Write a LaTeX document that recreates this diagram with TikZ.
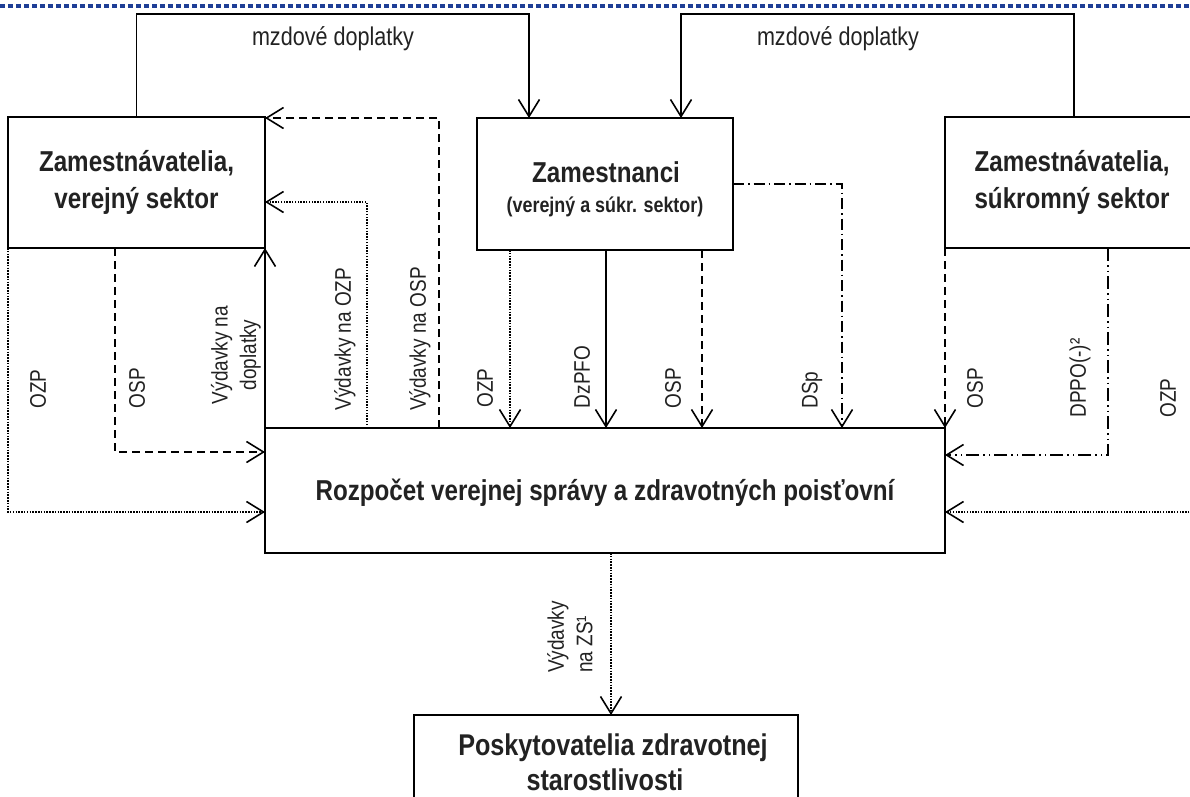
\documentclass[tikz,border=0pt]{standalone}
\usepackage{fontspec}
\setmainfont{Liberation Sans}[FakeStretch=0.84]
\usetikzlibrary{arrows.meta,calc}
\definecolor{txt}{RGB}{34,34,34}
\definecolor{topblue}{RGB}{30,62,150}
\tikzset{
 x=1pt, y=-1pt,
 box/.style={draw=black, line width=1.3pt, outer sep=0pt, inner sep=0pt},
 conn/.style={line width=1.8pt, draw=black},
 arr/.style={-{Straight Barb[length=17pt,width=21pt,line width=1.6pt]}},
 dsh/.style={dash pattern=on 8pt off 5pt},
 dtt/.style={dash pattern=on 1.5pt off 1.3pt},
 ddot/.style={dash pattern=on 11pt off 4pt on 1.5pt off 4pt},
 dddot/.style={dash pattern=on 13pt off 4pt on 1.5pt off 4pt on 1.5pt off 4pt},
 title/.style={text=txt, font=\bfseries\fontsize{28.8}{37}\selectfont, align=center, inner sep=0pt},
 btitle/.style={text=txt, font=\bfseries\fontsize{30}{35}\selectfont, inner sep=0pt},
 subt/.style={text=txt, font=\bfseries\fontsize{21.3}{24}\selectfont, inner sep=0pt},
 lbl/.style={text=txt, font=\fontsize{22.6}{28.5}\selectfont, inner sep=0pt},
 toplbl/.style={text=txt, font=\fontsize{25.7}{28}\selectfont, inner sep=0pt},
}
\begin{document}
\begin{tikzpicture}
\useasboundingbox (0,0) rectangle (1190,796);
\clip (0,0) rectangle (1190,796);
\draw[topblue, line width=3.5pt, dash pattern=on 4.5pt off 3.5pt] (0,6) -- (1190,6);

% boxes
\node[box, minimum width=257pt, minimum height=131pt, title] (L) at (136.5,182.5) {Zamestnávatelia,\\verejný sektor};
\node[box, minimum width=256pt, minimum height=132pt] (M) at (605,184) {};
\node[title, anchor=base] (Mt) at (606,182) {Zamestnanci};
\node[subt, anchor=base] (Ms) at (605,212) {(verejný a súkr. sektor)};
\node[box, minimum width=254pt, minimum height=131pt, title] (R) at (1072,182.5) {Zamestnávatelia,\\súkromný sektor};
\node[box, minimum width=680pt, minimum height=125pt] (C) at (605,490.5) {};
\node[title, anchor=base] (Ct) at (605,500) {Rozpočet verejnej správy a zdravotných poisťovní};
\node[box, minimum width=384pt, minimum height=115pt] (B) at (606,772.5) {};
\node[btitle, anchor=base] (Bt1) at (613,755) {Poskytovatelia zdravotnej};
\node[btitle, anchor=base] (Bt2) at (605,790) {starostlivosti};

% top connectors
\coordinate (t1) at (529,14);
\coordinate (t2) at (681,14);
\draw[conn, arr] (L.north) |- (t1) -- (M.north -| t1);
\draw[conn, arr] ($(R.north west)+(129,0)$) |- (t2) -- (M.north -| t2);
\node[toplbl] (md1) at (333,39) {mzdové doplatky};
\node[toplbl] (md2) at (838,39) {mzdové doplatky};

% from budget back to public employers
\draw[conn, dsh, arr] ($(C.north west)+(174,0)$) |- ($(L.north east)+(0,1)$);
\draw[conn, dtt, arr] ($(C.north west)+(102,0)$) |- ($(L.north east)+(0,85)$);
\draw[conn, arr] (C.north west) -- (L.south east);

% from public employers to budget
\draw[conn, dtt, arr] (L.south west) |- ($(C.north west)+(0,84)$);
\draw[conn, dsh, arr] ($(L.south west)+(107,0)$) |- ($(C.north west)+(0,24)$);

% from employees to budget
\draw[conn, dtt, arr] ($(M.south west)+(33,0)$) coordinate (m1) -- (m1 |- C.north);
\draw[conn, arr] ($(M.south west)+(129,0)$) coordinate (m2) -- (m2 |- C.north);
\draw[conn, dsh, arr] ($(M.south west)+(225,0)$) coordinate (m3) -- (m3 |- C.north);
\draw[conn, ddot, arr] (M.east) -| ($(C.north west)+(577,0)$);

% from private employers to budget
\draw[conn, dsh, arr] (R.south west) -- (C.north east);
\draw[conn, dddot, arr] ($(R.south west)+(163,0)$) |- ($(C.north east)+(0,27)$);
\coordinate (rz) at (1195,512);
\draw[conn, dtt, arr] (rz) -- (rz -| C.east);

% budget to providers
\draw[conn, dtt, arr] ($(C.south west)+(346,0)$) coordinate (cz) -- (cz |- B.north);

% labels
\node[lbl, rotate=90] (a1) at (38,389) {OZP};
\node[lbl, rotate=90] (a2) at (137,388) {OSP};
\node[lbl, rotate=90, align=center] (a3) at (236,355) {Výdavky na\\doplatky};
\node[lbl, rotate=90] (a4) at (345,339) {Výdavky na OZP};
\node[lbl, rotate=90] (a5) at (420,339) {Výdavky na OSP};
\node[lbl, rotate=90] (b1) at (485,388) {OZP};
\node[lbl, rotate=90] (b2) at (582,377) {DzPFO};
\node[lbl, rotate=90] (b3) at (673,388) {OSP};
\node[lbl, rotate=90] (b4) at (812,390) {DSp};
\node[lbl, rotate=90] (c1) at (975,388) {OSP};
\node[lbl, rotate=90] (c2) at (1080,378) {DPPO(-)²};
\node[lbl, rotate=90] (c3) at (1168,398) {OZP};
\node[lbl, rotate=90, align=left, anchor=west] (d1) at (570,673) {Výdavky\\na ZS¹};
\end{tikzpicture}
\end{document}
